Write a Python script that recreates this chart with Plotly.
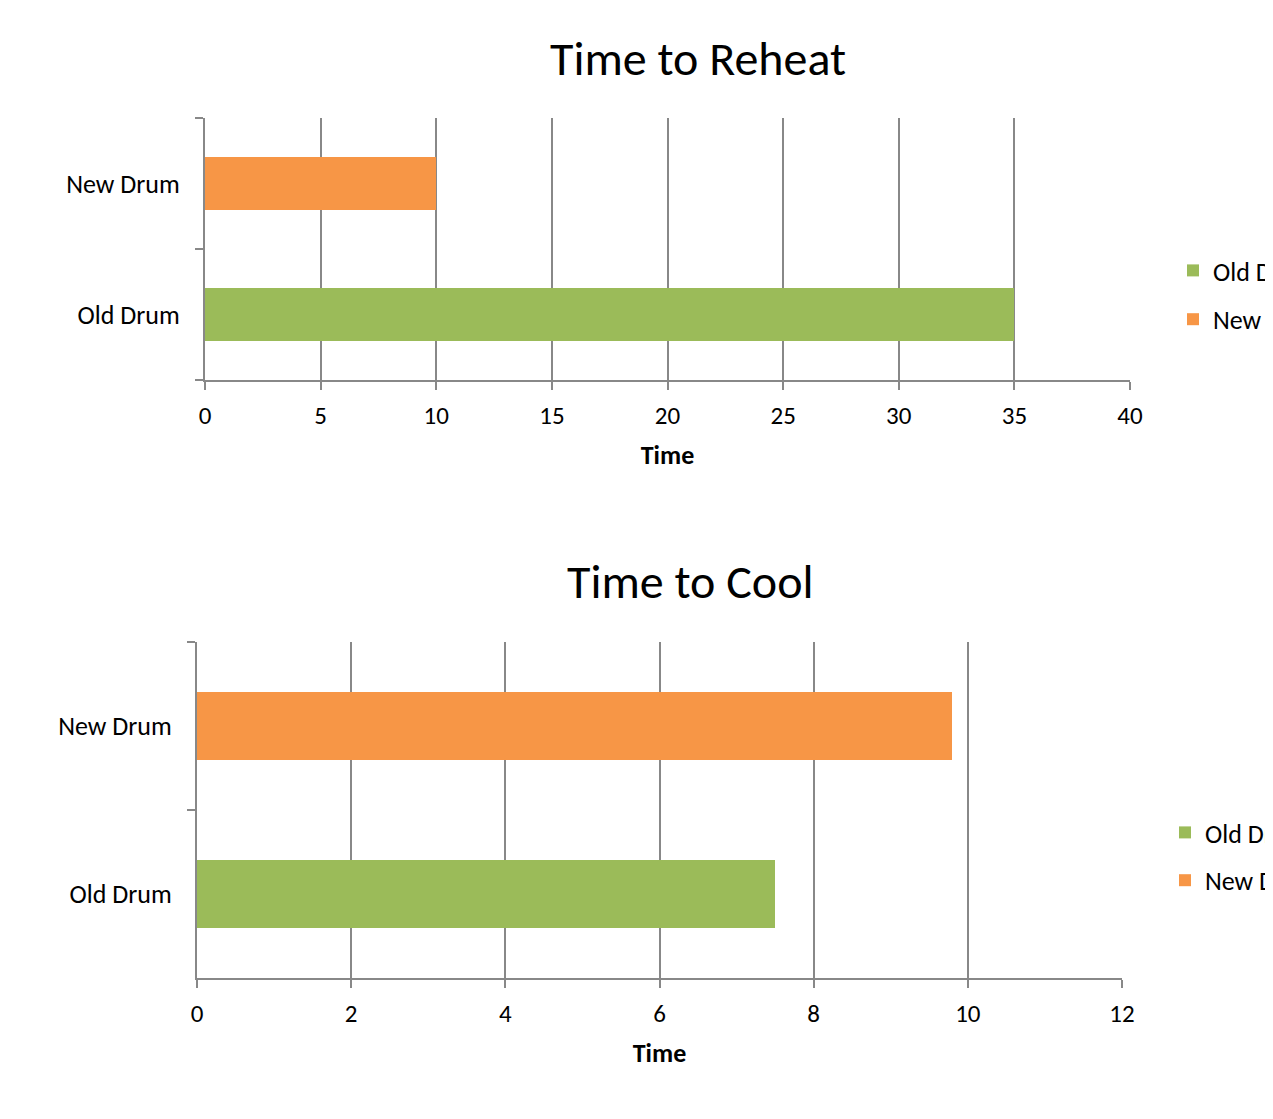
import plotly.graph_objects as go

categories = ["Old Drum", "New Drum"]
reheat_values = [35, 10]
cool_values = [7.5, 9.8]
colors = {"Old Drum": "#9BBB59", "New Drum": "#F79646"}
reheat_ticks = [0, 5, 10, 15, 20, 25, 30, 35, 40]
cool_ticks = [0, 2, 4, 6, 8, 10, 12]

OFF = 8  # default body margin of the html page
W, H = 1273 - OFF, 1119 - 2 * OFF
FONT = "Carlito, Lato, 'Liberation Sans', sans-serif"
GRID = "#888888"

fig = go.Figure()

for i, cat in enumerate(categories):
    fig.add_trace(go.Bar(
        y=[cat], x=[reheat_values[i]], orientation="h", name=cat,
        marker=dict(color=colors[cat], line=dict(width=0)), width=0.4,
        xaxis="x", yaxis="y", legend="legend", legendgroup="a" + cat,
        hoverinfo="x+y"))
for i, cat in enumerate(categories):
    fig.add_trace(go.Bar(
        y=[cat], x=[cool_values[i]], orientation="h", name=cat,
        marker=dict(color=colors[cat], line=dict(width=0)), width=0.4,
        xaxis="x2", yaxis="y2", legend="legend2", legendgroup="b" + cat,
        hoverinfo="x+y"))

def fx(p):
    return (p - OFF) / W

def fy(p):
    return 1 - (p - OFF) / H

xcommon = dict(showgrid=True, gridcolor=GRID, gridwidth=2, showline=True,
               linecolor=GRID, linewidth=2, ticks="outside", ticklen=8,
               tickwidth=2, tickcolor=GRID, zeroline=False, ticklabelstandoff=4,
               tickfont=dict(size=25, color="black", family=FONT),
               title=dict(text="<b>Time</b>", font=dict(size=26, color="black", family=FONT), standoff=16))
ycommon = dict(type="category", categoryorder="array", categoryarray=categories,
               range=[-0.5, 1.5], showgrid=False, showline=True, linecolor=GRID,
               linewidth=2, ticks="outside", ticklen=8, tickwidth=2, tickcolor=GRID,
               tickson="boundaries", ticklabelstandoff=18,
               tickfont=dict(size=26, color="black", family=FONT))

fig.update_layout(
    width=W, height=H, autosize=False,
    margin=dict(l=0, r=0, t=0, b=0, pad=0, autoexpand=False),
    paper_bgcolor="white", plot_bgcolor="white",
    barmode="overlay", bargap=0,
    showlegend=True,
    xaxis=dict(domain=[fx(205), fx(1130)], anchor="y", range=[0, 40],
               tickvals=reheat_ticks, **xcommon),
    yaxis=dict(domain=[fy(380), fy(118)], anchor="x", **ycommon),
    xaxis2=dict(domain=[fx(197), fx(1122)], anchor="y2", range=[0, 12],
                tickvals=cool_ticks, **xcommon),
    yaxis2=dict(domain=[fy(978), fy(642)], anchor="x2", **ycommon),
    legend=dict(x=fx(1173), y=fy(247), xanchor="left", yanchor="top",
                font=dict(size=26, color="black", family=FONT),
                tracegroupgap=12, traceorder="grouped", bgcolor="rgba(0,0,0,0)"),
    legend2=dict(x=fx(1165), y=fy(809), xanchor="left", yanchor="top",
                 font=dict(size=26, color="black", family=FONT),
                 tracegroupgap=11, traceorder="grouped", bgcolor="rgba(0,0,0,0)"),
    annotations=[
        dict(text="Time to Reheat", x=fx(698), y=fy(58), xref="paper", yref="paper",
             showarrow=False, xanchor="center", yanchor="middle",
             font=dict(size=48, color="black", family=FONT)),
        dict(text="Time to Cool", x=fx(690), y=fy(581), xref="paper", yref="paper",
             showarrow=False, xanchor="center", yanchor="middle",
             font=dict(size=48, color="black", family=FONT)),
    ],
)

fig.write_html("out.html")
